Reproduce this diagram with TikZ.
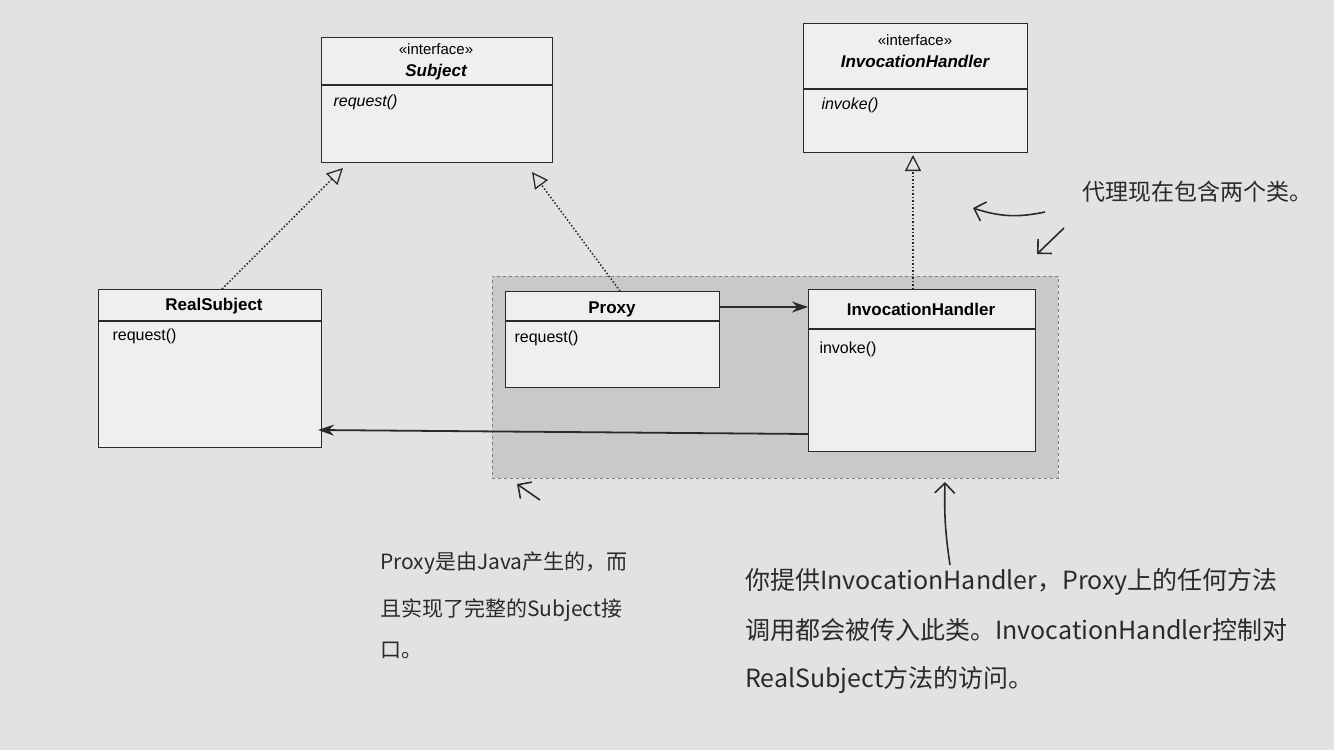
\documentclass[tikz,border=0pt]{standalone}
\usepackage{fontspec}
\setmainfont{Liberation Sans}
\newfontfamily\cjk{Noto Sans CJK SC}
\usetikzlibrary{arrows.meta}
\definecolor{paper}{HTML}{E2E2E2}
\definecolor{boxfill}{HTML}{EFEFEF}
\definecolor{shade}{HTML}{C9C9C9}
\definecolor{ink}{HTML}{2A2A2A}
\begin{document}
\begin{tikzpicture}[x=1pt,y=-1pt,
  cls/.style={draw=ink,fill=boxfill,line width=1.3pt,anchor=north west,inner sep=0},
  real/.style={-{Triangle[open,length=16pt,width=16pt,line width=1.3pt]},dotted,line width=1.5pt,draw=ink},
  assoc/.style={-{Stealth[length=16pt,width=11pt]},line width=1.8pt,draw=ink},
  hand/.style={-{Straight Barb[length=10pt]},line width=1.6pt,draw=ink},
  st/.style={font=\fontsize{15}{17}\selectfont},
  nm/.style={font=\fontsize{17}{19}\selectfont\bfseries},
  mt/.style={font=\fontsize{16}{18}\selectfont,anchor=west},
  note/.style={font=\cjk\fontsize{21}{24}\selectfont,text=ink,anchor=west,inner sep=0}]
\fill[paper] (0,0) rectangle (1334,750);
\useasboundingbox (0,0) rectangle (1334,750);
% shaded region
\node[draw=gray,dashed,fill=shade,minimum width=566pt,minimum height=202pt,anchor=north west,inner sep=0] (region) at (492,276) {};
% Subject
\node[cls,minimum width=231pt,minimum height=125pt] (subj) at (321,37) {};
\draw[ink,line width=1.1pt] (321,85) -- (552,85);
\node[st] (subjst) at (436,49) {<<interface>>};
\node[nm,font=\fontsize{17}{19}\selectfont\bfseries\itshape] (subjn) at (436,72) {Subject};
\node[mt,font=\fontsize{16}{18}\selectfont\itshape] (subjm) at (330,102) {request()};
% InvocationHandler interface
\node[cls,minimum width=224pt,minimum height=129pt] (ihi) at (803,23) {};
\draw[ink,line width=1.1pt] (803,89) -- (1027,89);
\node[st] (ihist) at (915,40) {<<interface>>};
\node[nm,font=\fontsize{17}{19}\selectfont\bfseries\itshape] (ihin) at (915,61) {InvocationHandler};
\node[mt,font=\fontsize{16}{18}\selectfont\itshape] (ihim) at (818,105) {invoke()};
% RealSubject
\node[cls,minimum width=223pt,minimum height=158pt] (rs) at (98,289) {};
\draw[ink,line width=1.1pt] (98,321) -- (321,321);
\node[nm] (rsn) at (214,306) {RealSubject};
\node[mt] (rsm) at (109,336) {request()};
% Proxy
\node[cls,minimum width=214pt,minimum height=96pt] (px) at (505,291) {};
\draw[ink,line width=1.1pt] (505,321) -- (719,321);
\node[nm] (pxn) at (612,309) {Proxy};
\node[mt] (pxm) at (511,338) {request()};
% InvocationHandler
\node[cls,minimum width=227pt,minimum height=162pt] (ih) at (808,289) {};
\draw[ink,line width=1.1pt] (808,329) -- (1035,329);
\node[nm] (ihn) at (921,309) {InvocationHandler};
\node[mt] (ihm) at (816,349) {invoke()};
% realizations
\coordinate (t1) at (343,168);
\coordinate (t2) at (532,172);
\coordinate (t3) at (913,155);
\draw[real] (222,289) -- (t1);
\draw[real] (620,291) -- (t2);
\draw[real] (913,289) -- (t3);
% associations
\draw[assoc] (719,307) -- (808,307);
\draw[assoc] (808,434) -- (318,430);
% handwritten arrows
\coordinate (a1s) at (1045,212); \coordinate (a1e) at (973,208);
\draw[hand] (a1s) to[bend left=15] (a1e);
\coordinate (a2s) at (1064,228); \coordinate (a2e) at (1037,254);
\draw[hand] (a2s) -- (a2e);
\coordinate (a3s) at (950,565); \coordinate (a3e) at (945,482);
\draw[hand] (a3s) to[bend left=5] (a3e);
\coordinate (a4s) at (540,500); \coordinate (a4e) at (517,484);
\draw[hand] (a4s) -- (a4e);
% notes
\node[note,font=\cjk\fontsize{23}{26}\selectfont] (n1) at (1082,192) {代理现在包含两个类。};
\node[note] (n2a) at (380,563) {Proxy是由Java产生的，而};
\node[note] (n2b) at (380,610) {且实现了完整的Subject接};
\node[note] (n2c) at (380,650) {口。};
\node[note,font=\cjk\fontsize{25}{28}\selectfont] (n3a) at (745,582) {你提供InvocationHandler，Proxy上的任何方法};
\node[note,font=\cjk\fontsize{25}{28}\selectfont] (n3b) at (745,630) {调用都会被传入此类。InvocationHandler控制对};
\node[note,font=\cjk\fontsize{25}{28}\selectfont] (n3c) at (745,680) {RealSubject方法的访问。};
\end{tikzpicture}
\end{document}
